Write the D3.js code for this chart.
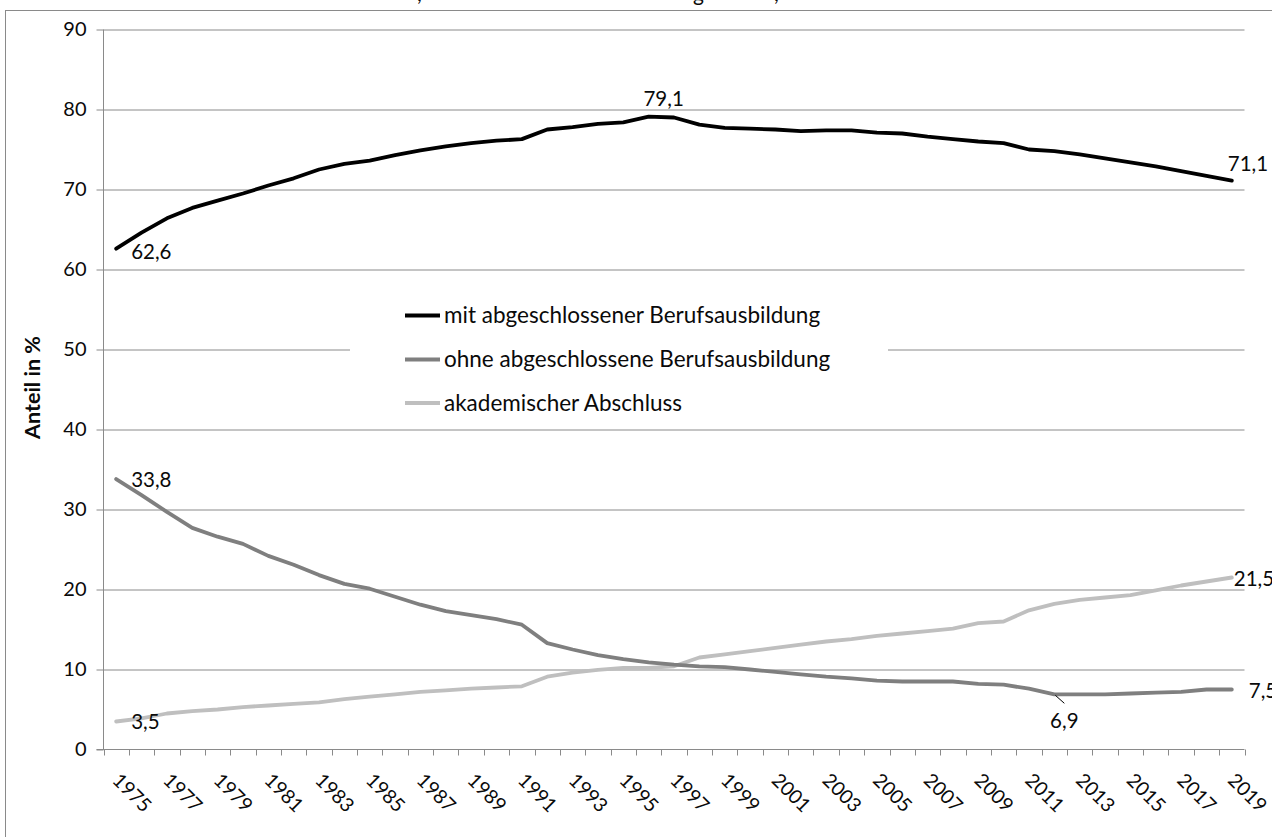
<!DOCTYPE html>
<html>
<head>
<meta charset="utf-8">
<script src="https://cdn.jsdelivr.net/npm/d3@7"></script>
<style>
  html, body { margin: 0; padding: 0; background: #fff; }
  svg { display: block; }
  text { font-family: Lato, "Open Sans", sans-serif; fill: #0a0a0a; }
</style>
</head>
<body>
<svg id="chart" width="1272" height="837"></svg>
<script>
// ---------- data ----------
const years = d3.range(1975, 2020);
const mitBerufsausbildung = [
  62.6, 64.6, 66.4, 67.7, 68.6, 69.5, 70.5, 71.4, 72.5, 73.2,
  73.6, 74.3, 74.9, 75.4, 75.8, 76.1, 76.3, 77.5, 77.8, 78.2,
  78.4, 79.1, 79.0, 78.1, 77.7, 77.6, 77.5, 77.3, 77.4, 77.4,
  77.1, 77.0, 76.6, 76.3, 76.0, 75.8, 75.0, 74.8, 74.4, 73.9,
  73.4, 72.9, 72.3, 71.7, 71.1
];
const ohneBerufsausbildung = [
  33.8, 31.8, 29.7, 27.7, 26.6, 25.7, 24.2, 23.1, 21.8, 20.7,
  20.1, 19.1, 18.1, 17.3, 16.8, 16.3, 15.6, 13.3, 12.5, 11.8,
  11.3, 10.9, 10.6, 10.4, 10.3, 10.0, 9.7, 9.4, 9.1, 8.9,
  8.6, 8.5, 8.5, 8.5, 8.2, 8.1, 7.6, 6.9, 6.9, 6.9,
  7.0, 7.1, 7.2, 7.5, 7.5
];
const akademisch = [
  3.5, 3.9, 4.5, 4.8, 5.0, 5.3, 5.5, 5.7, 5.9, 6.3,
  6.6, 6.9, 7.2, 7.4, 7.6, 7.75, 7.9, 9.1, 9.6, 9.95,
  10.2, 10.2, 10.4, 11.5, 11.9, 12.3, 12.7, 13.1, 13.5, 13.8,
  14.2, 14.5, 14.8, 15.1, 15.8, 16.0, 17.4, 18.2, 18.7, 19.0,
  19.3, 19.9, 20.5, 21.0, 21.5
];
const seriesNames = [
  "mit abgeschlossener Berufsausbildung",
  "ohne abgeschlossene Berufsausbildung",
  "akademischer Abschluss"
];
const seriesColors = ["#000000", "#7f7f7f", "#bfbfbf"];
const yTicks = [0, 10, 20, 30, 40, 50, 60, 70, 80, 90];
const xTickLabels = years.filter(v => (v - 1975) % 2 === 0);
const yAxisTitle = "Anteil in %";
// labelled points: [series index, year]
const labelled = [
  [0, 1975], [0, 1996], [0, 2019],
  [1, 1975], [1, 2012], [1, 2019],
  [2, 1975], [2, 2019]
];

// ---------- layout ----------
const svg = d3.select("#chart");
const pLeft = 103.5, pRight = 1244.5, pTop = 29.5, pBottom = 749.5;
const gridColor = "#8a8a8a";

const x = d3.scaleBand().domain(years).range([pLeft, pRight]).padding(0);
const xc = yr => x(yr) + x.bandwidth() / 2;
const y = d3.scaleLinear().domain([0, 90]).range([pBottom, pTop]);

// outer frame
svg.append("rect")
  .attr("x", 5.5).attr("y", 10.5).attr("width", 1400).attr("height", 1000)
  .attr("fill", "#fff").attr("stroke", gridColor).attr("stroke-width", 1);

// title remnants (the title lies above the cropped top edge)
const titleT = svg.append("text").attr("y", 1).style("font-size", "21px");
titleT.append("tspan").attr("x", 417).text(",");
titleT.append("tspan").attr("x", 693).text("g");
titleT.append("tspan").attr("x", 774).text(",");

// gridlines
svg.append("g")
  .attr("transform", `translate(${pLeft},0)`)
  .call(d3.axisLeft(y).tickValues(yTicks.filter(v => v > 0)).tickSize(-(pRight - pLeft)).tickSizeOuter(0).tickFormat(""))
  .call(g => g.select(".domain").remove())
  .call(g => g.selectAll("line").attr("stroke", gridColor).attr("stroke-width", 1));

// y axis
const yAxis = svg.append("g")
  .attr("transform", `translate(${pLeft},0)`)
  .call(d3.axisLeft(y).tickValues(yTicks).tickSize(7).tickPadding(10));
yAxis.select(".domain").attr("stroke", gridColor).attr("d", `M0,${pTop}V${pBottom}`);
yAxis.selectAll("line").attr("stroke", gridColor);
yAxis.selectAll("text").style("font-size", "20px").attr("fill", "#0a0a0a")
  .style("font-family", "Lato, sans-serif");

// x axis line + ticks at band boundaries
svg.append("line")
  .attr("x1", pLeft - 7).attr("x2", pRight).attr("y1", pBottom).attr("y2", pBottom)
  .attr("stroke", gridColor);
const boundaries = years.map(yr => x(yr)).concat([x(years[years.length - 1]) + x.bandwidth()]);
svg.append("g").selectAll("line").data(boundaries).join("line")
  .attr("x1", d => Math.round(d) + 0.5).attr("x2", d => Math.round(d) + 0.5)
  .attr("y1", pBottom).attr("y2", pBottom + 6)
  .attr("stroke", gridColor);

// x tick labels, rotated 45°
svg.append("g").selectAll("text").data(xTickLabels).join("text")
  .attr("transform", d => `translate(${xc(d) - 5},${pBottom + 32}) rotate(45)`)
  .attr("text-anchor", "start")
  .style("font-size", "19.5px")
  .text(d => d);

// y axis title
svg.append("text")
  .attr("transform", `translate(40,${(pTop + pBottom) / 2 - 2}) rotate(-90)`)
  .attr("text-anchor", "middle")
  .style("font-size", "21.5px").style("font-weight", "bold")
  .text(yAxisTitle);

// legend background
svg.append("rect")
  .attr("x", 350).attr("y", 285).attr("width", 538).attr("height", 135)
  .attr("fill", "#fff");

// lines
const allSeries = [mitBerufsausbildung, ohneBerufsausbildung, akademisch];
const line = d3.line().x((d, i) => xc(years[i])).y(d => y(d)).curve(d3.curveLinear);
[2, 1, 0].forEach(si => {
  svg.append("path")
    .datum(allSeries[si])
    .attr("d", line)
    .attr("fill", "none")
    .attr("stroke", seriesColors[si])
    .attr("stroke-width", 3.8)
    .attr("stroke-linejoin", "round")
    .attr("stroke-linecap", "round");
});

// legend
const legendRowsY = [315.5, 359.5, 403];
seriesNames.forEach((name, i) => {
  svg.append("line")
    .attr("x1", 405).attr("x2", 440)
    .attr("y1", legendRowsY[i]).attr("y2", legendRowsY[i])
    .attr("stroke", seriesColors[i]).attr("stroke-width", 3.8);
  svg.append("text")
    .attr("x", 444).attr("y", legendRowsY[i] + 7.5)
    .style("font-size", "22.5px")
    .text(name);
});

// data labels
const fmt = v => String(v).replace(".", ",");
const labelOffsets = {
  "0-1975": [15, 10, "start"],
  "0-1996": [15, -11, "middle"],
  "0-2019": [-4, -10, "start"],
  "1-1975": [15, 8, "start"],
  "1-2012": [10, 34, "middle"],
  "1-2019": [17, 8, "start"],
  "2-1975": [15, 7, "start"],
  "2-2019": [2, 8, "start"]
};
labelled.forEach(([si, yr]) => {
  const i = years.indexOf(yr);
  const v = allSeries[si][i];
  const px = xc(yr), py = y(v);
  const [dx, dy, anchor] = labelOffsets[si + "-" + yr];
  svg.append("text")
    .attr("x", px + dx).attr("y", py + dy)
    .attr("text-anchor", anchor)
    .style("font-size", "20.5px")
    .text(fmt(v));
  if (si === 1 && yr === 2012) {
    svg.append("line")
      .attr("x1", px + 1).attr("y1", py + 1)
      .attr("x2", px + 10).attr("y2", py + 9)
      .attr("stroke", "#000").attr("stroke-width", 1);
  }
});
</script>
</body>
</html>
